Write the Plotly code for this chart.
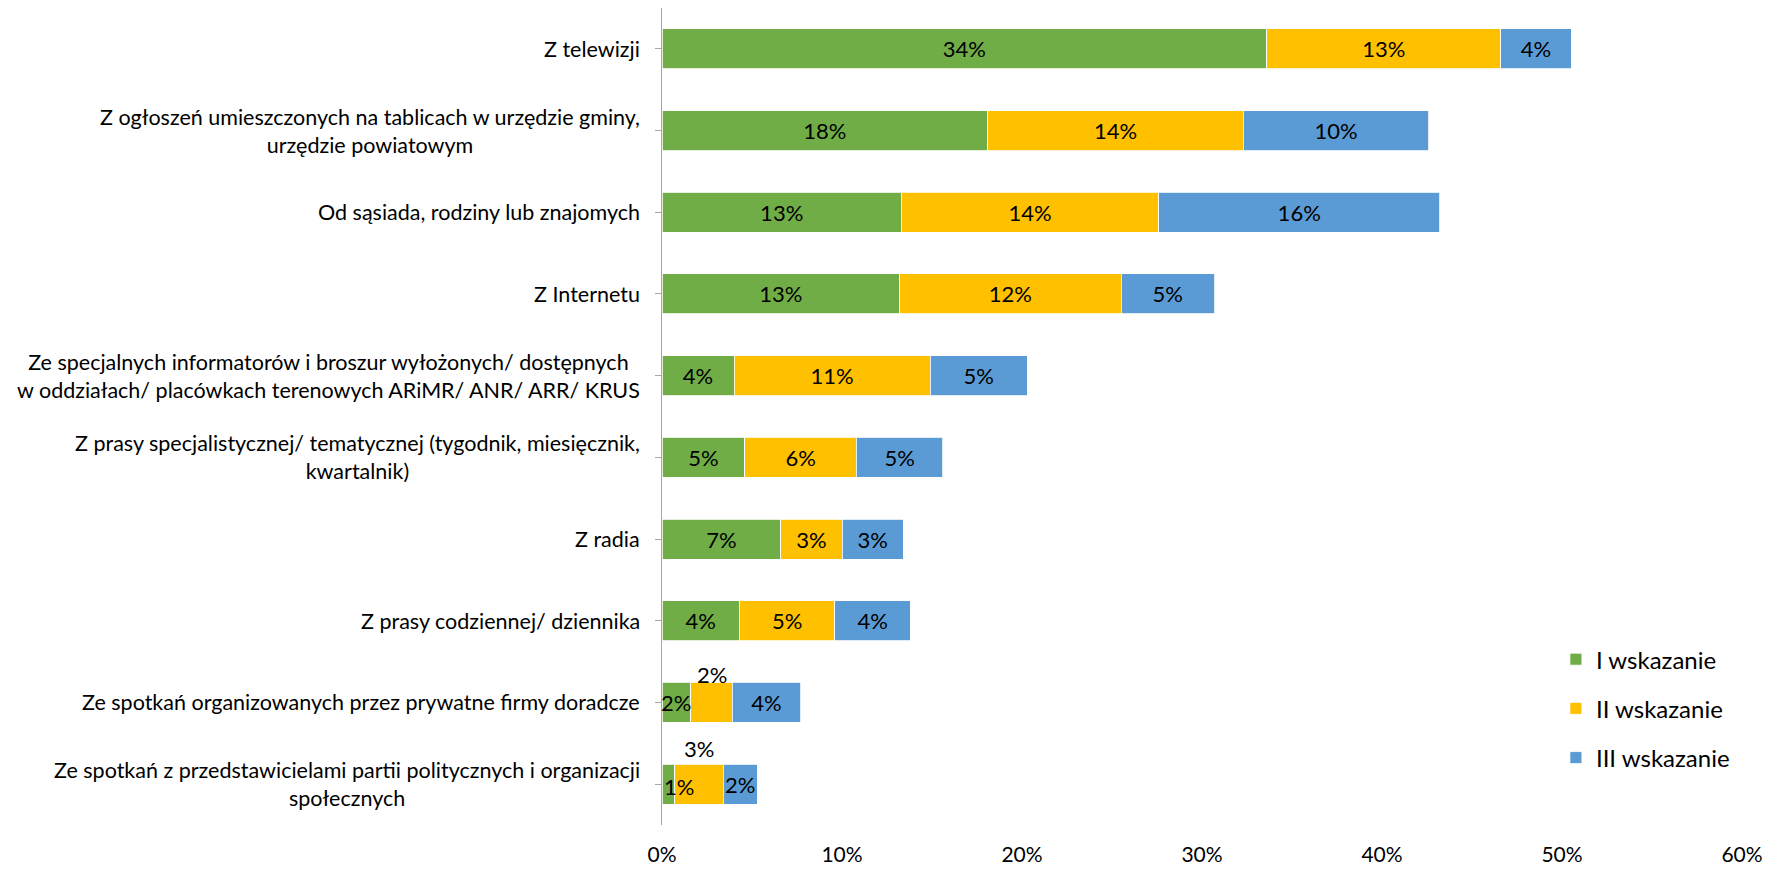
import plotly.graph_objects as go

categories = [
    "Z telewizji",
    "Z ogłoszeń umieszczonych na tablicach w urzędzie gminy,<br>urzędzie powiatowym",
    "Od sąsiada, rodziny lub znajomych",
    "Z Internetu",
    "Ze specjalnych informatorów i broszur wyłożonych/ dostępnych<br>w oddziałach/ placówkach terenowych ARiMR/ ANR/ ARR/ KRUS",
    "Z prasy specjalistycznej/ tematycznej (tygodnik, miesięcznik,<br>kwartalnik)",
    "Z radia",
    "Z prasy codziennej/ dziennika",
    "Ze spotkań organizowanych przez prywatne firmy doradcze",
    "Ze spotkań z przedstawicielami partii politycznych i organizacji<br>społecznych",
]
series_names = ["I wskazanie", "II wskazanie", "III wskazanie"]
first = [33.6, 18.1, 13.3, 13.2, 4.0, 4.6, 6.6, 4.3, 1.6, 0.7]
second = [13.0, 14.2, 14.3, 12.3, 10.9, 6.2, 3.4, 5.3, 2.3, 2.7]
third = [3.9, 10.3, 15.6, 5.2, 5.4, 4.8, 3.4, 4.2, 3.8, 1.9]
x_ticks = [0, 10, 20, 30, 40, 50, 60]
x_tick_labels = ["0%", "10%", "20%", "30%", "40%", "50%", "60%"]
# labels of the II series that Excel pushed above the bar (too narrow)
second_above = [8, 9]
# labels of the I series too narrow for their segment (drawn on top of the stack)
first_overflow = [8, 9]

colors = ["#70AD47", "#FFC000", "#5B9BD5"]
FONT = "Lato"
ids = list(range(len(categories)))

fig = go.Figure()
for si, (name, vals, col) in enumerate(zip(series_names, [first, second, third], colors)):
    pos = []
    for i in ids:
        hide = (si == 1 and i in second_above) or (si == 0 and i in first_overflow)
        pos.append("none" if hide else "inside")
    fig.add_trace(go.Bar(
        y=ids, x=vals, orientation="h", name=name,
        marker=dict(color=col, line=dict(color="white", width=0.8)),
        text=[f"{v:.0f}%" for v in vals], textposition=pos, textangle=0,
        insidetextanchor="middle", constraintext="none",
        textfont=dict(family=FONT, size=22, color="black"),
        legendgroup=name, hoverinfo="skip",
    ))

annotations = []
above_shift = {8: 28, 9: 36}
for i in second_above:
    annotations.append(dict(
        x=first[i] + second[i] / 2, y=i, xref="x", yref="y",
        text=f"{second[i]:.0f}%", showarrow=False, yshift=above_shift[i],
        font=dict(family=FONT, size=22, color="black"),
    ))
for i in first_overflow:
    narrow = first[i] < 1
    annotations.append(dict(
        x=0 if narrow else first[i] / 2, y=i, xref="x", yref="y",
        xanchor="left" if narrow else "center", yshift=-2 if narrow else 0,
        text=f"{first[i]:.0f}%", showarrow=False,
        font=dict(family=FONT, size=22, color="black"),
    ))
for i, c in enumerate(categories):
    annotations.append(dict(
        x=0, y=i, xref="paper", yref="y", xanchor="right", xshift=-20,
        text=c, align="center", showarrow=False,
        font=dict(family=FONT, size=21.5, color="black"),
    ))

fig.update_layout(
    width=1767, height=871,
    margin=dict(l=662, r=25, t=8, b=46, autoexpand=False),
    barmode="stack", bargap=0.51,
    plot_bgcolor="white", paper_bgcolor="white",
    uniformtext=dict(minsize=22, mode="show"),
    annotations=annotations,
    legend=dict(
        x=0.8277, y=0.230, xanchor="left", yanchor="top",
        traceorder="grouped", tracegroupgap=15,
        font=dict(family=FONT, size=24, color="black"),
        itemwidth=30,
    ),
    font=dict(family=FONT, color="black"),
)
fig.update_xaxes(
    range=[0, 60], tickvals=x_ticks, ticktext=x_tick_labels,
    showgrid=False, zeroline=False, showline=False, automargin=False,
    tickfont=dict(family=FONT, size=21, color="black"),
    ticks="", ticklabelstandoff=15, ticklabeloverflow="allow",
)
fig.update_yaxes(
    tickvals=ids, showticklabels=False, range=[9.5, -0.5], automargin=False,
    showgrid=False, zeroline=False, showline=True, linecolor="#A6A6A6", linewidth=1.2,
    ticks="outside", ticklen=6, tickcolor="#A6A6A6", tickson="boundaries",
)
fig.write_html("out.html", config={"displayModeBar": False},
               post_script="document.body.style.margin='0';")
